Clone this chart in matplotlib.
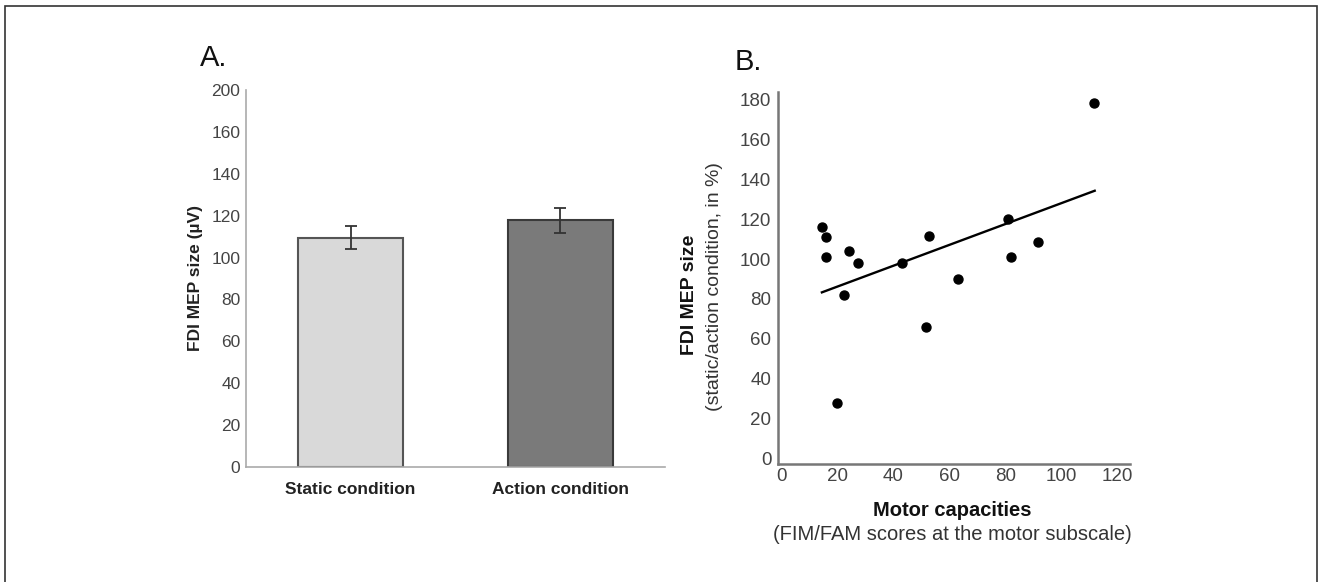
import matplotlib.pyplot as plt
from matplotlib.patches import Rectangle
import numpy as np

plt.rcParams['font.family'] = ['Liberation Sans', 'DejaVu Sans']

# panel A - bar chart
conditions = ['Static condition', 'Action condition']
mep_mean = [109.4, 117.8]
mep_err = [5.5, 6.0]
bar_colors = ['#d9d9d9', '#7a7a7a']
a_ticks = [0, 20, 40, 60, 80, 100, 120, 140, 160, 180]
a_ticklabels = ['0', '20', '40', '60', '80', '100', '120', '140', '160', '200']

# panel B - scatter with regression line
motor = [14.4, 15.8, 15.8, 24.2, 27.2, 22.2, 19.8, 43.2, 52.8, 51.5, 63.2, 81.0, 82.0, 91.6, 111.6]
mep_ratio = [116, 111, 100.8, 104, 97.8, 81.9, 28, 97.8, 111.5, 65.7, 89.8, 120, 101.2, 108.4, 178.5]
fit_x = [14.4, 112.0]
fit_y = [83.3, 134.3]

fig = plt.figure(figsize=(13.18, 5.82), dpi=100)

# frame around the whole figure
fig.patches.append(Rectangle((5/1318, -0.01), 1312/1318, 1.01 - 6/582, transform=fig.transFigure,
                             fill=False, edgecolor='#333333', linewidth=1.2))

# ---- A ----
axA = fig.add_axes([0.1866, 0.1976, 0.3179, 0.6478])
x = np.arange(len(conditions))
axA.bar(x, mep_mean, width=0.5, color=bar_colors, edgecolor=['#555555', '#3a3a3a'], linewidth=1.5)
axA.errorbar(x, mep_mean, yerr=mep_err, fmt='none', ecolor='#333333', elinewidth=1.3, capsize=4, capthick=1.3)
axA.set_xlim(-0.5, 1.5)
axA.set_ylim(0, 180)
axA.set_yticks(a_ticks)
axA.set_yticklabels(a_ticklabels)
axA.set_xticks(x)
axA.set_xticklabels(conditions, fontweight='bold', fontsize=12.5, color='#222222')
for s in ['top', 'right']:
    axA.spines[s].set_visible(False)
for s in ['left', 'bottom']:
    axA.spines[s].set_color('#aaaaaa')
    axA.spines[s].set_linewidth(1.2)
axA.tick_params(axis='y', length=0, pad=4, labelsize=12.5, labelcolor='#444444')
axA.tick_params(axis='x', length=0, pad=11)
axA.set_ylabel('FDI MEP size (µV)', fontweight='bold', fontsize=12.5, color='#222222', labelpad=6)
fig.text(200/1318, 1 - 58/582, 'A.', fontsize=21, va='center', ha='left', color='#111111')

# ---- B ----
axB = fig.add_axes([0.5905, 0.2022, 0.2668, 0.6402])
axB.scatter(motor, mep_ratio, s=42, color='black', zorder=3)
axB.plot(fit_x, fit_y, color='black', linewidth=1.7)
axB.set_xlim(-1.2, 124.6)
axB.set_ylim(-3, 184)
axB.set_xticks(np.arange(0, 121, 20))
axB.set_yticks(np.arange(0, 181, 20))
for s in ['top', 'right']:
    axB.spines[s].set_visible(False)
for s in ['left', 'bottom']:
    axB.spines[s].set_color('#777777')
    axB.spines[s].set_linewidth(1.8)
axB.tick_params(axis='both', length=0, labelsize=13.5, labelcolor='#444444')
axB.tick_params(axis='y', pad=5)
axB.tick_params(axis='x', pad=3)
fig.text(690/1318, 1 - 295/582, 'FDI MEP size', rotation=90, fontweight='bold', fontsize=14,
         ha='center', va='center', color='#111111')
fig.text(715/1318, 1 - 287/582, '(static/action condition, in %)', rotation=90, fontsize=14,
         ha='center', va='center', color='#333333')
fig.text(952/1318, 1 - 510/582, 'Motor capacities', fontweight='bold', fontsize=14.5,
         ha='center', va='center', color='#111111')
fig.text(952/1318, 1 - 535/582, '(FIM/FAM scores at the motor subscale)', fontsize=14.5,
         ha='center', va='center', color='#333333')
fig.text(735/1318, 1 - 62/582, 'B.', fontsize=21, va='center', ha='left', color='#111111')

fig.savefig('out.png', dpi=100)
